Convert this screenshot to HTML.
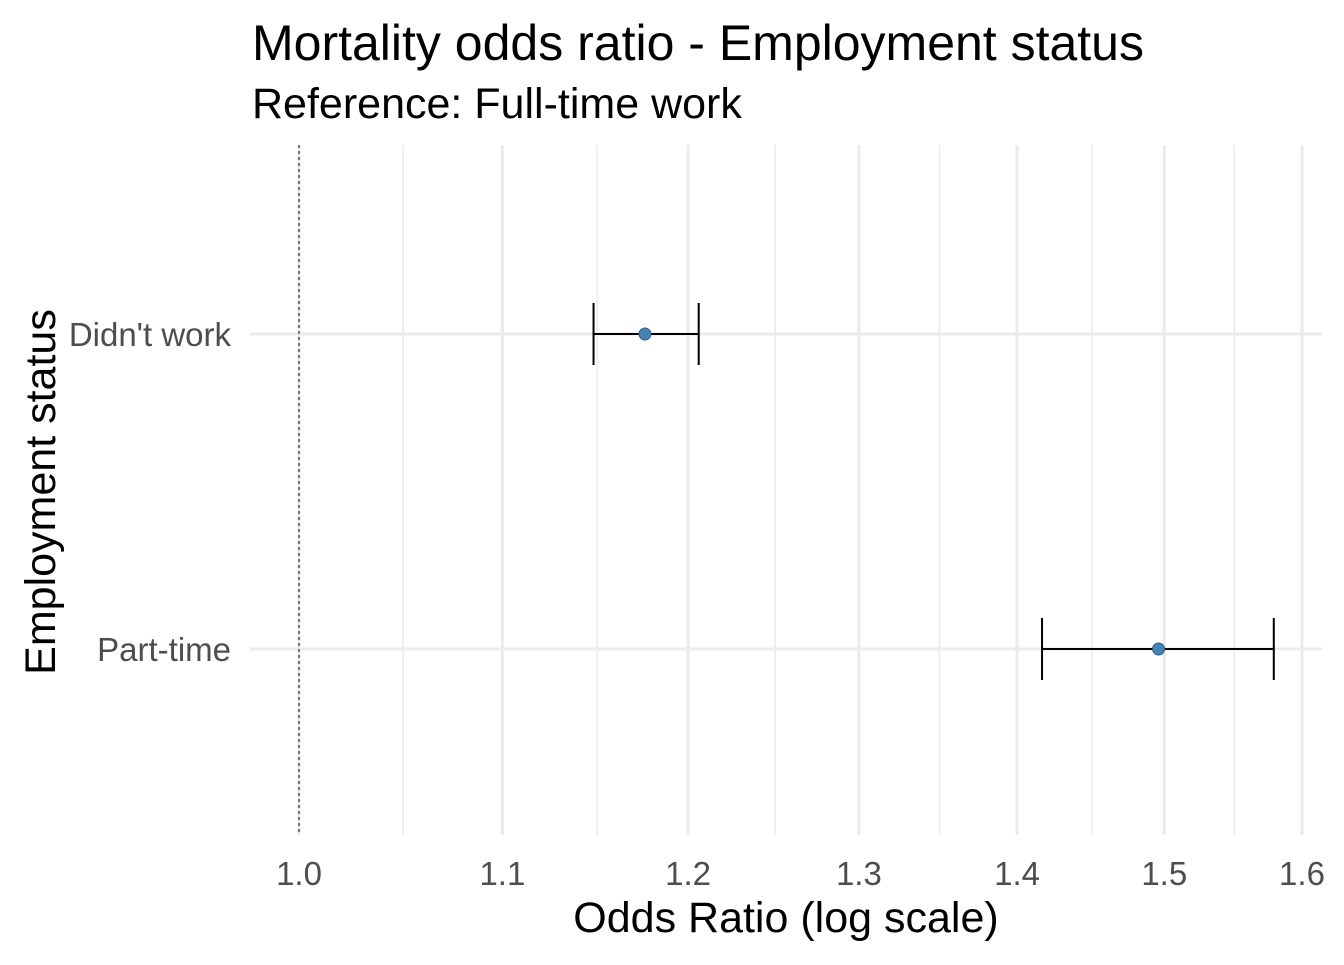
<!DOCTYPE html>
<html><head><meta charset="utf-8"><style>
body{margin:0;background:#fff;}
svg text{font-family:"Liberation Sans",Arial,sans-serif;}
</style></head><body>
<svg id="chart" width="1344" height="960" xmlns="http://www.w3.org/2000/svg">
<text x="252" y="60" font-size="50" fill="#000">Mortality odds ratio - Employment status</text>
<text x="252" y="118" font-size="43" fill="#000">Reference: Full-time work</text>
<text x="786" y="932" font-size="43" fill="#000" text-anchor="middle">Odds Ratio (log scale)</text>
<text transform="translate(55,492) rotate(-90)" font-size="43" fill="#000" text-anchor="middle">Employment status</text>
<g id="grid"></g><g id="marks"></g>
</svg>
<script>
const categories=["Didn't work","Part-time"];
const estimates=[1.176,1.496];
const lowers=[1.148,1.4165];
const uppers=[1.206,1.579];
const majorTicks=[1.0,1.1,1.2,1.3,1.4,1.5,1.6];
const minorTicks=[1.05,1.15,1.25,1.35,1.45,1.55];
const ns="http://www.w3.org/2000/svg";
const x0=299,k=2134;
function xs(v){return x0+Math.log(v)*k;}
const rowY0=334,rowStep=315;
function ys(i){return rowY0+i*rowStep;}
const pT=145,pB=835,pL=250,pR=1322;
function mk(tag,attrs,parent){const e=document.createElementNS(ns,tag);for(const a in attrs)e.setAttribute(a,attrs[a]);parent.appendChild(e);return e;}
const grid=document.getElementById('grid'),marks=document.getElementById('marks');
minorTicks.forEach(t=>{const l=mk('line',{x1:xs(t),x2:xs(t),y1:pT,y2:pB,stroke:'#ebebeb','stroke-width':1.5},grid);

});
majorTicks.forEach(t=>{const l=mk('line',{x1:xs(t),x2:xs(t),y1:pT,y2:pB,stroke:'#ebebeb','stroke-width':3},grid);


const tx=mk('text',{x:xs(t),y:885,'font-size':33,fill:'#4d4d4d','text-anchor':'middle'},grid);tx.textContent=t.toFixed(1);

});
categories.forEach((c,i)=>{const l=mk('line',{x1:pL,x2:pR,y1:ys(i),y2:ys(i),stroke:'#ebebeb','stroke-width':3},grid);


const tx=mk('text',{x:231,y:ys(i)+12,'font-size':33,fill:'#4d4d4d','text-anchor':'end'},grid);tx.textContent=c;

});
const ref=mk('line',{x1:xs(1),x2:xs(1),y1:pT,y2:pB,stroke:'#000','stroke-width':1,'stroke-dasharray':'3,3'},marks);


categories.forEach((c,i)=>{const y=ys(i);
const g=mk('g',{},marks);


mk('line',{x1:xs(lowers[i]),x2:xs(uppers[i]),y1:y,y2:y,stroke:'#000','stroke-width':2},g);
mk('line',{x1:xs(lowers[i]),x2:xs(lowers[i]),y1:y-31,y2:y+31,stroke:'#000','stroke-width':2},g);
mk('line',{x1:xs(uppers[i]),x2:xs(uppers[i]),y1:y-31,y2:y+31,stroke:'#000','stroke-width':2},g);
const p=mk('circle',{cx:xs(estimates[i]),cy:y,r:6,fill:'#4682b4',stroke:'#2f5f87','stroke-width':1},marks);

});
</script>
</body></html>
